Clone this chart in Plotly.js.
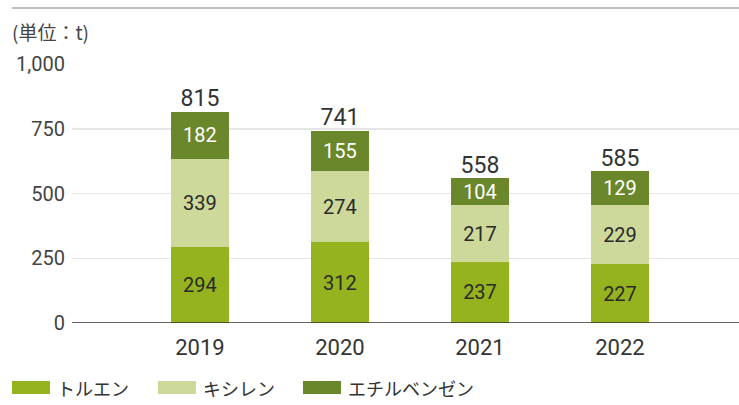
<!DOCTYPE html>
<html><head><meta charset="utf-8">
<script src="https://cdn.plot.ly/plotly-3.0.1.min.js"></script>
<style>body{margin:0;background:#fff}#c{width:739px;height:405px}</style>
</head><body><div id="c"></div>
<script>
const years = ['2019', '2020', '2021', '2022'];
const toluene = [294, 312, 237, 227];
const xylene = [339, 274, 217, 229];
const ethylbenzene = [182, 155, 104, 129];
const totals = [815, 741, 558, 585];
const seriesNames = ['トルエン', 'キシレン', 'エチルベンゼン'];
const colors = ['#95b31f', '#cdd99a', '#6a872b'];
const yTicks = [0, 250, 500, 750, 1000];
const yTickText = ['0', '250', '500', '750', '1,000'];

const FONT = 'Roboto, "Noto Sans CJK JP", sans-serif';
const series = [toluene, xylene, ethylbenzene];
const textColors = ['#2a2a2a', '#2a2a2a', '#fff'];
const traces = series.map((vals, i) => ({
  type: 'bar', x: years, y: vals, name: seriesNames[i],
  marker: {color: colors[i]}, width: 0.414,
  text: vals.map(String), textposition: 'inside', insidetextanchor: 'middle', constraintext: 'none',
  textfont: {family: FONT, size: 20, color: textColors[i]},
  showlegend: false, hoverinfo: 'skip'
}));
traces.push({
  type: 'scatter', mode: 'text', x: years, y: totals, text: totals.map(String),
  textposition: 'top center', textfont: {family: FONT, size: 23, color: '#333'},
  showlegend: false, hoverinfo: 'skip', cliponaxis: false
});

const W = 739, L = 72, R = 0, T = 64, B = 82;
const pw = W - L - R;
const px = x => (x - L) / pw;
const ph = 405 - T - B;
const py = y => (405 - B - y) / ph;

const shapes = [
  {type: 'line', xref: 'paper', yref: 'paper', x0: px(12), x1: px(739), y0: py(8), y1: py(8), line: {color: '#aaa', width: 1.5}},
  {type: 'line', xref: 'paper', yref: 'y', x0: 0, x1: 1, y0: 0, y1: 0, line: {color: '#333', width: 1.5}, layer: 'above'}
];
const annotations = [
  {xref: 'paper', yref: 'paper', x: px(10), y: py(31), xanchor: 'left', yanchor: 'middle', showarrow: false,
   text: '(単位：t)', font: {family: '"Noto Sans CJK JP", sans-serif', size: 19, color: '#444'}}
];
const legX = [12, 158, 303];
seriesNames.forEach((n, i) => {
  shapes.push({type: 'rect', xref: 'paper', yref: 'paper', x0: px(legX[i]), x1: px(legX[i] + 38), y0: py(394), y1: py(381),
    fillcolor: colors[i], line: {width: 0}});
  annotations.push({xref: 'paper', yref: 'paper', x: px(legX[i] + 43), y: py(388), xanchor: 'left', yanchor: 'middle',
    showarrow: false, text: n, font: {family: '"Noto Sans CJK JP", sans-serif', size: 18, color: '#333'}});
});

const layout = {
  width: W, height: 405, margin: {l: L, r: R, t: T, b: B},
  paper_bgcolor: '#fff', plot_bgcolor: '#fff', barmode: 'stack',
  xaxis: {type: 'category', range: [-0.914, 3.85], showgrid: false, zeroline: false, showline: false,
    ticks: '', tickfont: {family: FONT, size: 22, color: '#333'}, ticklabelstandoff: 9},
  yaxis: {range: [0, 1000], tickvals: yTicks, ticktext: yTickText, showgrid: true, gridcolor: '#e6e6e6', gridwidth: 1.5,
    zeroline: false, showline: false, ticks: '', tickfont: {family: FONT, size: 20, color: '#444'}, ticklabelstandoff: 6},
  shapes, annotations, showlegend: false
};
Plotly.newPlot('c', traces, layout, {staticPlot: true});
</script></body></html>
